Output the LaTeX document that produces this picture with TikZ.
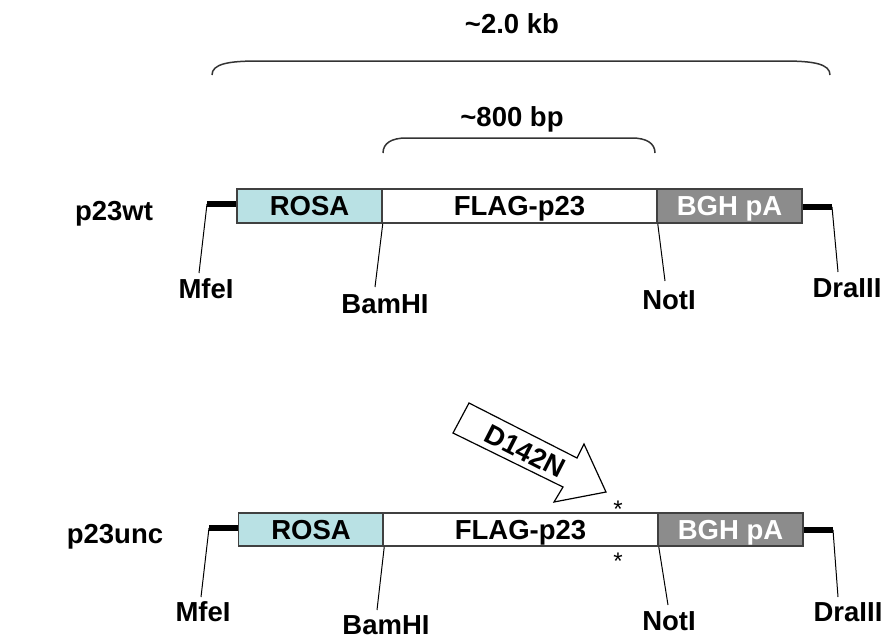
\documentclass[tikz,border=0pt]{standalone}
\usepackage{fontspec}
\setmainfont{Liberation Sans}
\definecolor{rosafill}{HTML}{B9E1E4}
\definecolor{bghfill}{HTML}{8C8C8C}
\definecolor{boxline}{HTML}{404040}
\definecolor{bracecol}{HTML}{333333}
\begin{document}
\begin{tikzpicture}[x=1pt,y=-1pt,
  lbl/.style={font=\fontsize{27.5}{32}\selectfont\bfseries, inner sep=0pt},
  seg/.style={draw=boxline, line width=1.5pt, minimum height=34pt, inner sep=0pt,
    text height=19.7pt, text depth=0pt, font=\fontsize{27.5}{32}\selectfont\bfseries},
  rosa/.style={seg, fill=rosafill, minimum width=145pt},
  flag/.style={seg, fill=white, minimum width=275pt},
  bgh/.style={seg, fill=bghfill, text=white, minimum width=145pt},
  bar/.style={line width=6pt},
  tick/.style={line width=1pt},
  brace/.style={line width=1.5pt, draw=bracecol},
  star/.style={font=\fontsize{24}{28}\selectfont, inner sep=0pt, anchor=base},
]
\useasboundingbox (0,0) rectangle (885,641);

% braces
\node[lbl] (kb) at (512,24) {\textasciitilde 2.0 kb};
\draw[brace] (212,75) .. controls (212,64) and (228,61) .. (258,61) -- (784,61) .. controls (814,61) and (830,64) .. (830,75);
\node[lbl] (bp) at (512,119) {\textasciitilde 800 bp};
\draw[brace] (383,153) .. controls (383,143) and (392,138) .. (406,138) -- (632,138) .. controls (646,138) and (655,143) .. (655,153);

% top row
\node[lbl] (wt) at (114,214) {p23wt};
\node[rosa] (rosaT) at (309.5,206) {ROSA};
\node[flag] (flagT) at (519.5,206) {FLAG-p23};
\node[bgh] (bghT) at (729.5,206) {BGH pA};

\coordinate (mfelTa) at (207,204);
\coordinate (mfelTb) at (199,273);
\draw[bar] (mfelTa) -- (mfelTa -| rosaT.west);
\draw[tick] (mfelTa) -- (mfelTb);
\node[lbl] (mfelT) at (206,289) {MfeI};

\coordinate (bamTb) at (375,287);
\draw[tick] (rosaT.south east) -- (bamTb);
\node[lbl] (bamT) at (385,304) {BamHI};

\coordinate (notTb) at (665,281);
\draw[tick] (flagT.south east) -- (notTb);
\node[lbl] (notT) at (669,300) {NotI};

\coordinate (draTa) at (832,207);
\coordinate (draTb) at (838,272);
\draw[bar] (draTa -| bghT.east) -- (draTa);
\draw[tick] (draTa) -- (draTb);
\node[lbl] (draT) at (847,288) {DraIII};

% bottom row
\node[lbl] (unc) at (115,537) {p23unc};
\node[rosa, minimum height=33pt] (rosaB) at (311,529.5) {ROSA};
\node[flag, minimum height=33pt] (flagB) at (520.5,529.5) {FLAG-p23};
\node[bgh, minimum height=33pt] (bghB) at (730.5,529.5) {BGH pA};

\coordinate (mfelBa) at (209,528);
\coordinate (mfelBb) at (201,597);
\draw[bar] (mfelBa) -- (mfelBa -| rosaB.west);
\draw[tick] (mfelBa) -- (mfelBb);
\node[lbl] (mfelB) at (203,612) {MfeI};

\coordinate (bamBb) at (377,610);
\draw[tick] (rosaB.south east) -- (bamBb);
\node[lbl] (bamB) at (386,625) {BamHI};

\coordinate (notBb) at (668,605);
\draw[tick] (flagB.south east) -- (notBb);
\node[lbl] (notB) at (669,621) {NotI};

\coordinate (draBa) at (833,530);
\coordinate (draBb) at (838,597);
\draw[bar] (draBa -| bghB.east) -- (draBa);
\draw[tick] (draBa) -- (draBb);
\node[lbl] (draB) at (848,612) {DraIII};

% mutation arrow
\draw[line width=1.2pt, fill=white] (453,433) -- (563,487) -- (554,502) -- (606,492) -- (584,444) -- (577,458) -- (469,403) -- cycle;
\node[lbl, rotate=-27] (mut) at (525,451) {D142N};

\node[star] (starU) at (618,517) {*};
\node[star] (starL) at (618,569) {*};
\end{tikzpicture}
\end{document}
